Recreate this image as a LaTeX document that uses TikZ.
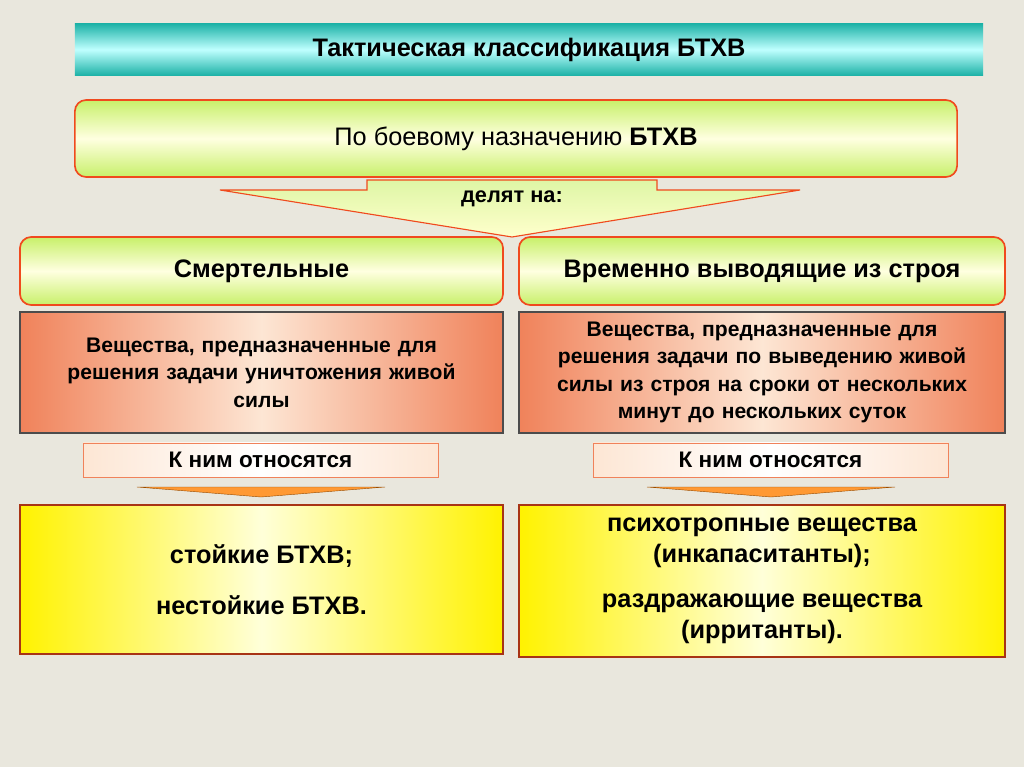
\documentclass[tikz,border=0pt]{standalone}
\usepackage{fontspec}
\setmainfont{Liberation Sans}
\usetikzlibrary{positioning}
\definecolor{bg}{HTML}{E9E7DD}
\definecolor{teal}{HTML}{1FB3A8}
\definecolor{redline}{HTML}{F04A1E}
\definecolor{greenish}{HTML}{C8F06A}
\definecolor{salmon}{HTML}{F0825A}
\definecolor{peach}{HTML}{FDE6D4}
\definecolor{goldy}{HTML}{FFF200}
\begin{document}
\begin{tikzpicture}[x=0.025cm, y=-0.025cm,
    greenbox/.style={draw=redline, line width=1.2pt, rounded corners=8pt,
      top color=greenish, bottom color=greenish, middle color=white!60!yellow!30,
      minimum height=1.7cm, font=\bfseries\fontsize{18}{21}\selectfont},
    orangebox/.style={draw=black!70, line width=1pt, left color=salmon,
      right color=salmon, middle color=peach, minimum height=3.025cm,
      align=center, font=\bfseries\fontsize{15}{19.5}\selectfont},
    tagbox/.style={draw=salmon, line width=0.6pt, left color=peach,
      right color=peach, middle color=white, minimum width=8.875cm,
      minimum height=0.85cm, font=\bfseries\fontsize{16}{18}\selectfont},
    yellowbox/.style={draw=redline!70!black, line width=1pt, left color=goldy,
      right color=goldy, middle color=yellow!15, align=center,
      font=\bfseries\fontsize{18}{22}\selectfont},
    wedge/.style={fill=orange!80, draw=orange!60!black, line width=0.3pt}
    ]
  \fill[bg] (0,0) rectangle (1024,767);
  \useasboundingbox (0,0) rectangle (1024,767);

  % title bar
  \node[top color=teal, bottom color=teal, middle color=cyan!25,
    minimum width=22.7cm, minimum height=1.275cm,
    font=\bfseries\fontsize{18}{21}\selectfont] (title) at (529,49.5)
    {Тактическая классификация БТХВ};

  % main question
  \node[greenbox, minimum width=22.05cm, minimum height=1.925cm,
    font=\fontsize{18}{21}\selectfont] (purpose) at (516,138.5)
    {По боевому назначению \textbf{БТХВ}};

  % big arrow
  \draw[draw=redline, line width=0.8pt, top color=greenish!60,
    bottom color=yellow!20]
    (367,180) -- (657,180) -- (657,190) -- (800,190) -- (512,237)
    -- (220,190) -- (367,190) -- cycle;
  \node[font=\bfseries\fontsize{15.5}{18}\selectfont] (divide) at (512,199) {делят на:};

  % two kinds
  \node[greenbox, minimum width=12.075cm] (lethal) at (261.5,271) {Смертельные};
  \node[greenbox, minimum width=12.15cm] (temp) at (762,271) {Временно выводящие из строя};

  \node[orangebox, minimum width=12.075cm, text width=11.5cm] (ldef) at (261.5,372.5)
    {Вещества, предназначенные для\\ решения задачи уничтожения живой\\ силы};
  \node[orangebox, minimum width=12.15cm, text width=11.8cm] (tdef) at (762,372.5)
    {Вещества, предназначенные для\\ решения задачи по выведению живой\\
     силы из строя на сроки от нескольких\\ минут до нескольких суток};

  \node[tagbox] (ltag) at (260.5,460) {К ним относятся};
  \node[tagbox] (ttag) at (770.5,460) {К ним относятся};

  \draw[wedge] (137,487) -- (385,487) -- (261,497) -- cycle;
  \draw[wedge] (647,487) -- (895,487) -- (771,497) -- cycle;

  \node[yellowbox, minimum width=12.075cm, minimum height=3.725cm] (litems) at (261.5,579.5)
    {стойкие БТХВ;\\[14pt] нестойкие БТХВ.};
  \node[yellowbox, minimum width=12.15cm, minimum height=3.8cm] (titems) at (762,581)
    {психотропные вещества\\ (инкапаситанты);\\[10pt]
     раздражающие вещества\\ (ирританты).};
\end{tikzpicture}
\end{document}
